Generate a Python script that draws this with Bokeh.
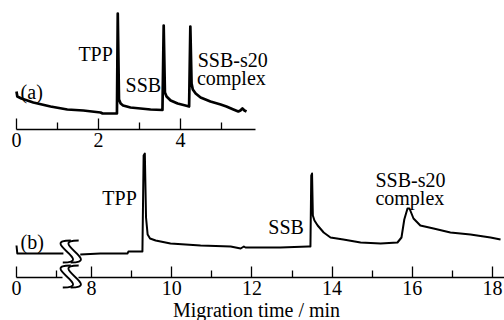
from bokeh.plotting import figure
from bokeh.models import Range1d, LinearAxis, FixedTicker
from bokeh.core.properties import value
from bokeh.embed import file_html
from bokeh.resources import INLINE

# ---------------- data ----------------
# (a) electropherogram: migration time (min) and detector signal (a.u.)
a_time = [0.00, 0.02, 0.12, 0.41, 0.83, 1.24, 1.63, 2.05, 2.10, 2.45,
          2.47, 2.50, 2.54, 2.60, 2.78, 3.27, 3.56, 3.59, 3.62, 3.66,
          3.76, 3.93, 4.12, 4.21, 4.24, 4.27, 4.30, 4.37, 4.49, 4.73,
          4.98, 5.12, 5.29, 5.41, 5.46, 5.51, 5.56, 5.61]
a_signal = [38, 33, 31, 27, 23, 20, 19, 17, 16, 16,
            116, 30, 26, 24, 22, 20, 19.5, 104, 37, 33,
            29, 26, 24, 23, 103, 46, 40, 36, 32, 28,
            25, 23, 20, 18, 19, 21, 19, 18]

# (b) electropherogram, before the axis break
b1_time = [0.00, 0.02, 0.50, 1.17]
b1_signal = [32, 24, 24, 24]
# (b) electropherogram, after the axis break
b2_time = [7.72, 8.22, 8.90, 8.92, 9.27, 9.30, 9.33, 9.36, 9.40, 9.46, 9.60,
           9.97, 10.72, 11.47, 11.72, 11.80, 11.84, 12.21, 12.71, 13.41, 13.46,
           13.48, 13.50, 13.52, 13.56, 13.64, 13.79, 13.96, 14.28, 14.71, 15.21, 15.63,
           15.73, 15.80, 15.88, 15.93, 16.03, 16.20, 16.53, 16.95, 17.45, 17.95,
           18.20]
b2_signal = [23, 24, 24, 26, 26, 122, 124, 60, 43, 39, 37,
             34, 32, 31, 29, 31, 30, 30, 30, 31, 31,
             102, 104, 62, 57, 52, 45, 40, 38, 35, 34, 35,
             40, 58, 69, 69, 59, 52, 49, 45, 43, 40,
             38]

# tick values
a_ticks = [0, 2, 4]
a_minor = [1, 3, 5]
b1_ticks = [0]
b1_minor = [1]
b2_ticks = [8, 10, 12, 14, 16, 18]
b2_minor = [9, 11, 13, 15, 17]

# peak labels
a_labels = ["TPP", "SSB", "SSB-s20", "complex", "(a)"]
b_labels = ["TPP", "SSB", "SSB-s20", "complex"]
x_title = "Migration time / min"

# ---------------- label placement ----------------
a_label_x = [1.51, 2.66, 4.42, 4.40, 0.10]
a_label_y = [76, 45, 70, 52, 38]
b_label_x = [8.27, 12.41, 15.08, 15.08]
b_label_y = [80, 51, 98, 80]
b_tag_x = [0.10]
b_tag_y = [35.5]
b_tag = ["(b)"]

FONT = "Liberation Serif"

p = figure(width=504, height=320,
           x_range=Range1d(-0.399, 12.170), y_range=Range1d(-43, 277),
           x_axis_type=None, y_axis_type=None,
           toolbar_location=None, output_backend="svg",
           min_border=0, outline_line_color=None)
p.extra_x_ranges = {"ta": Range1d(-0.390, 11.902), "tb": Range1d(5.731, 18.299)}
p.extra_y_ranges = {"ya": Range1d(-191, 129)}


def style_axis(ax):
    ax.fixed_location = 0
    ax.axis_line_width = 1.3
    ax.axis_line_color = "black"
    ax.major_tick_in = 11
    ax.major_tick_out = 0
    ax.minor_tick_in = 7
    ax.minor_tick_out = 0
    ax.major_tick_line_width = 1.3
    ax.minor_tick_line_width = 1.3
    ax.major_tick_line_color = "black"
    ax.minor_tick_line_color = "black"
    ax.major_label_text_font = FONT
    ax.major_label_text_font_size = "20px"
    ax.major_label_text_color = "black"
    ax.major_label_standoff = 3


ax_a = LinearAxis(x_range_name="ta", y_range_name="ya",
                  ticker=FixedTicker(ticks=a_ticks, minor_ticks=a_minor),
                  bounds=(0, 5.83))
style_axis(ax_a)
p.add_layout(ax_a, "below")

ax_b1 = LinearAxis(ticker=FixedTicker(ticks=b1_ticks, minor_ticks=b1_minor),
                   bounds=(0, 1.15))
style_axis(ax_b1)
p.add_layout(ax_b1, "below")

ax_b2 = LinearAxis(x_range_name="tb",
                   ticker=FixedTicker(ticks=b2_ticks, minor_ticks=b2_minor),
                   bounds=(7.68, 18.299))
style_axis(ax_b2)
p.add_layout(ax_b2, "below")

ax_title = LinearAxis(ticker=FixedTicker(ticks=[]), bounds=(0, 11.97),
                      axis_label=x_title)
ax_title.fixed_location = 0
ax_title.axis_line_color = None
ax_title.major_tick_line_color = None
ax_title.minor_tick_line_color = None
ax_title.axis_label_text_font = FONT
ax_title.axis_label_text_font_size = "20px"
ax_title.axis_label_text_font_style = "normal"
ax_title.axis_label_text_color = "black"
ax_title.axis_label_standoff = 21
p.add_layout(ax_title, "below")

# traces
p.line(a_time, a_signal, x_range_name="ta", y_range_name="ya",
       line_color="black", line_width=2.7, line_join="round")
p.line(b1_time, b1_signal, line_color="black", line_width=2.0, line_join="round")
p.line(b2_time, b2_signal, x_range_name="tb",
       line_color="black", line_width=2.0, line_join="round")

# axis-break marks (pairs of S curves across trace and axis)
PX = 1 / 40.1
centers = [1.254, 1.451]
spans = [(37, 15), (12, -10)]
bx0, by0, bx1, by1, bcx0, bcy0, bcx1, bcy1 = [], [], [], [], [], [], [], []
for top, bot in spans:
    for c in centers:
        bx0.append(c + 4 * PX); by0.append(top)
        bx1.append(c - 4 * PX); by1.append(bot)
        bcx0.append(c - 28 * PX); bcy0.append(top)
        bcx1.append(c + 28 * PX); bcy1.append(bot)
p.bezier(x0=bx0, y0=by0, x1=bx1, y1=by1, cx0=bcx0, cy0=bcy0, cx1=bcx1, cy1=bcy1,
         line_color="black", line_width=1.8)

# labels
p.text(x=a_label_x, y=a_label_y, text=a_labels, x_range_name="ta", y_range_name="ya",
       text_font=value(FONT), text_font_size="20px", text_color="black",
       text_align="left", text_baseline="alphabetic")
p.text(x=b_label_x, y=b_label_y, text=b_labels, x_range_name="tb",
       text_font=value(FONT), text_font_size="20px", text_color="black",
       text_align="left", text_baseline="alphabetic")
p.text(x=b_tag_x, y=b_tag_y, text=b_tag,
       text_font=value(FONT), text_font_size="20px", text_color="black",
       text_align="left", text_baseline="alphabetic")

open("out.html", "w").write(file_html(p, INLINE))
